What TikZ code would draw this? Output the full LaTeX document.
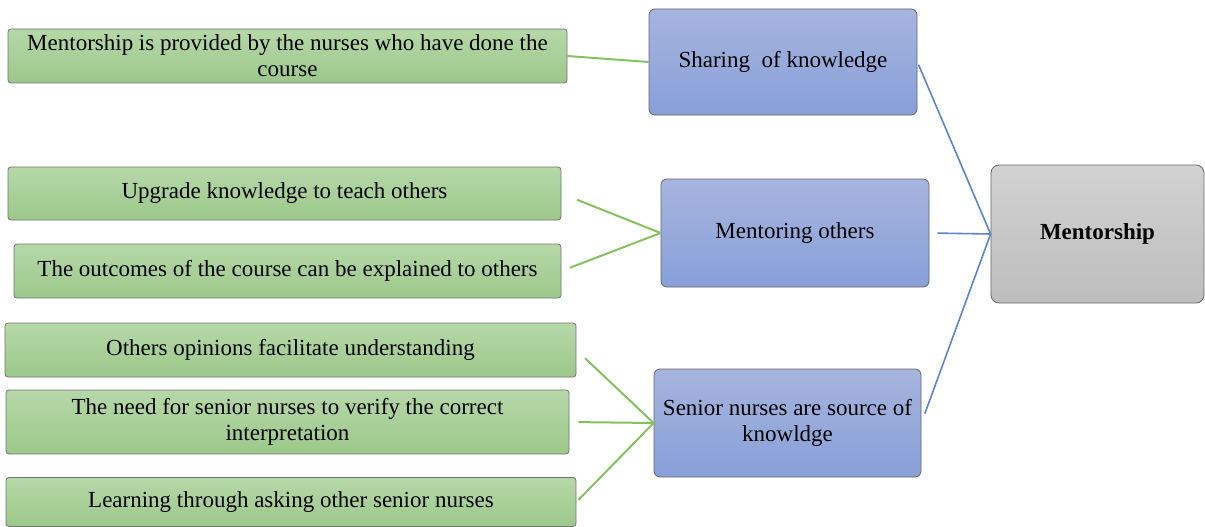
\documentclass[tikz,border=0pt]{standalone}
\usepackage{fontspec}
\setmainfont{Liberation Serif}
\begin{document}
\begin{tikzpicture}[x=1pt,y=-1pt,
  leaf/.style={draw=black!55, line width=0.8pt, rounded corners=3pt, top color=lgTop, bottom color=lgBot, align=flush center, font=\fontsize{23}{26}\selectfont, inner sep=1pt},
  mid/.style={draw=black!60, line width=0.8pt, rounded corners=6pt, top color=bTop, bottom color=bBot, align=flush center, font=\fontsize{23}{26}\selectfont, inner sep=0pt},
  root/.style={draw=black!60, line width=0.8pt, rounded corners=8pt, top color=grTop, bottom color=grBot, align=flush center, font=\fontsize{23}{26}\selectfont\bfseries, inner sep=1pt},
  gline/.style={draw=lnGreen, line width=2pt},
  bline/.style={draw=lnBlue, line width=1.6pt}]
\definecolor{lgTop}{HTML}{B6D8A8}
\definecolor{lgBot}{HTML}{9CC88A}
\definecolor{bTop}{HTML}{A6B5DE}
\definecolor{bBot}{HTML}{889FD8}
\definecolor{grTop}{HTML}{D2D2D2}
\definecolor{grBot}{HTML}{BDBDBD}
\definecolor{lnGreen}{HTML}{86C160}
\definecolor{lnBlue}{HTML}{5B86CF}
\useasboundingbox (0,0) rectangle (1205,527);
\node[leaf, minimum width=559pt, minimum height=54pt, text width=552pt] (g1) at (287.5,56) {Mentorship is provided by the nurses who have done the course};
\node[mid, minimum width=268pt, minimum height=106pt, text width=266pt] (b1) at (783,62) {Sharing\ \ of knowledge};
\node[leaf, minimum width=553pt, minimum height=53pt, text width=540pt] (g2) at (284.5,193.5) {Upgrade knowledge to teach others};
\node[leaf, minimum width=547pt, minimum height=54pt, text width=540pt] (g3) at (287.5,271) {The outcomes of the course can be explained to others};
\node[mid, minimum width=268pt, minimum height=108pt, text width=266pt] (b2) at (795,233) {Mentoring others};
\node[root, minimum width=213pt, minimum height=138pt, text width=205pt] (m) at (1097.5,234) {Mentorship};
\node[leaf, minimum width=571pt, minimum height=54pt, text width=560pt] (g4) at (290.5,350) {Others opinions facilitate understanding};
\node[leaf, minimum width=563pt, minimum height=64pt, text width=530pt] (g5) at (287.5,422) {The need for senior nurses to verify the correct interpretation};
\node[leaf, minimum width=570pt, minimum height=49pt, text width=560pt] (g6) at (291,502) {Learning through asking other senior nurses};
\node[mid, minimum width=267pt, minimum height=108pt, text width=266pt] (b3) at (787.5,423) {Senior nurses are source of knowldge};
\draw[gline] (g1.east) -- (b1.west);
\draw[gline, shorten <=17pt] (g2.east) -- (b2.west);
\draw[gline, shorten <=9pt] (g3.east) -- (b2.west);
\draw[gline, shorten <=12pt] (g4.east) -- (b3.west);
\draw[gline, shorten <=9pt] (g5.east) -- (b3.west);
\draw[gline, shorten <=3pt] (g6.east) -- (b3.west);
\draw[bline, shorten <=3pt] (b1.east) -- (m.west);
\draw[bline, shorten <=8pt] (b2.east) -- (m.west);
\draw[bline, shorten <=10pt] (b3.east) -- (m.west);
\end{tikzpicture}
\end{document}
